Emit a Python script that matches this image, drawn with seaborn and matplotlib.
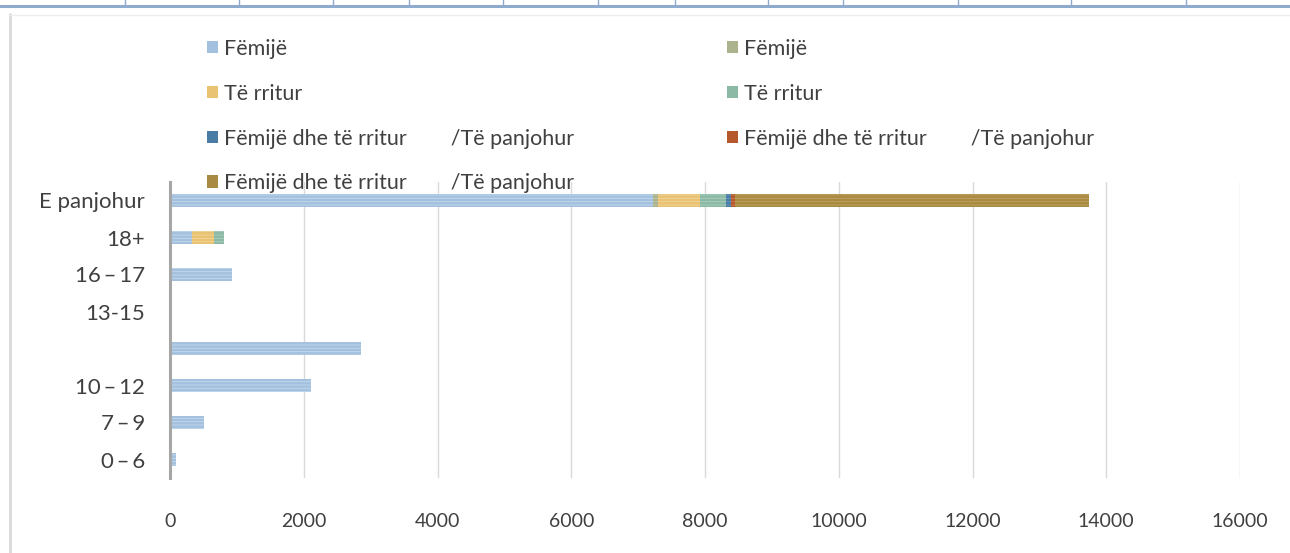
import numpy as np
import pandas as pd
import matplotlib
matplotlib.use('Agg')
import matplotlib.pyplot as plt
import seaborn as sns
from matplotlib.patches import Patch
from matplotlib.lines import Line2D

# Categories, top to bottom
categories = ['E panjohur', '18+', '16\u2009\u2013\u200917', '13-15', ' ',
              '10\u2009\u2013\u200912', '7\u2009\u2013\u20099', '0\u2009\u2013\u20096']

# Series values, one per category
femije_1 = [7220, 325, 932, 0, 2851, 2104, 508, 90]
femije_2 = [75, 0, 0, 0, 0, 0, 0, 0]
rritur_1 = [630, 335, 0, 0, 0, 0, 0, 0]
rritur_2 = [390, 140, 0, 0, 0, 0, 0, 0]
mix_1 = [75, 0, 0, 0, 0, 0, 0, 0]
mix_2 = [60, 0, 0, 0, 0, 0, 0, 0]
mix_3 = [5290, 0, 0, 0, 0, 0, 0, 0]

mix_label = 'Fëmijë dhe të rritur        /Të panjohur'
series_names = ['Fëmijë', 'Fëmijë', 'Të rritur', 'Të rritur', mix_label, mix_label, mix_label]
series_values = [femije_1, femije_2, rritur_1, rritur_2, mix_1, mix_2, mix_3]
colors = ['#a3c1de', '#aab38e', '#e9c272', '#8cb9a6', '#4a7ca6', '#b5592d', '#a98a42']
hatch_colors = ['#c3d8ec', '#c2c9aa', '#f2d79d', '#aacfbf', '#6d98bd', '#c97c55', '#c2a45f']

sns.set_theme(style='white')
plt.rcParams['font.family'] = ['Lato', 'DejaVu Sans']
plt.rcParams['hatch.linewidth'] = 0.6

fig = plt.figure(figsize=(12.9, 5.53), dpi=100)
ax = fig.add_axes([170 / 1290, 1 - 478 / 553, 1070 / 1290, 296 / 553])

cum = np.cumsum(np.array(series_values), axis=0)
for i in reversed(range(len(series_values))):
    df = pd.DataFrame({'cat': categories, 'val': cum[i]})
    sns.barplot(data=df, x='val', y='cat', order=categories, color=colors[i],
                width=0.37, orient='h', ax=ax, saturation=1,
                edgecolor=hatch_colors[i], linewidth=0, hatch='-----', zorder=3)

ax.set_xlim(0, 16000)
ax.set_xticks(range(0, 16001, 2000))
ax.set_xlabel('')
ax.set_ylabel('')
ax.grid(axis='x', color='#d9d9d9', linewidth=1, zorder=0)
ax.set_axisbelow(True)
for s in ['top', 'right', 'bottom']:
    ax.spines[s].set_visible(False)
ax.spines['left'].set_color('#a6a6a6')
ax.spines['left'].set_linewidth(2.2)
ax.spines['left'].set_zorder(5)
ax.tick_params(axis='x', length=0, pad=25, labelsize=14, labelcolor='#404040')
ax.tick_params(axis='y', length=0, pad=18, labelsize=16, labelcolor='#404040')

# Legend, row-major in two columns
legend_order = [0, 2, 4, 6, 1, 3, 5]
handles = [Patch(facecolor=colors[i], edgecolor='none') for i in legend_order]
labels = [series_names[i] for i in legend_order]
leg = fig.legend(handles, labels, ncol=2, loc='upper left',
                 bbox_to_anchor=(207 / 1290, 1 - 39 / 553), frameon=False,
                 fontsize=15.5, handlelength=0.5, handleheight=0.5,
                 handletextpad=0.3, labelspacing=1.15, columnspacing=7.1,
                 borderpad=0, borderaxespad=0)
for t in leg.get_texts():
    t.set_color('#404040')

# Worksheet frame around the chart
fig.add_artist(Line2D([0, 1], [1 - 6 / 553, 1 - 6 / 553], color='#8eaacc', linewidth=2.2))
for x in [125, 239, 333, 409, 503, 598, 675, 768, 843, 958, 1071, 1186]:
    fig.add_artist(Line2D([x / 1290, x / 1290], [1 - 5 / 553, 1], color='#8eaacc', linewidth=1))
fig.add_artist(Line2D([10 / 1290, 10 / 1290], [0, 1 - 14 / 553], color='#d9d9d9', linewidth=2))
fig.add_artist(Line2D([10 / 1290, 1], [1 - 15 / 553, 1 - 15 / 553], color='#eeeeee', linewidth=1))

fig.savefig('out.png', dpi=100)
